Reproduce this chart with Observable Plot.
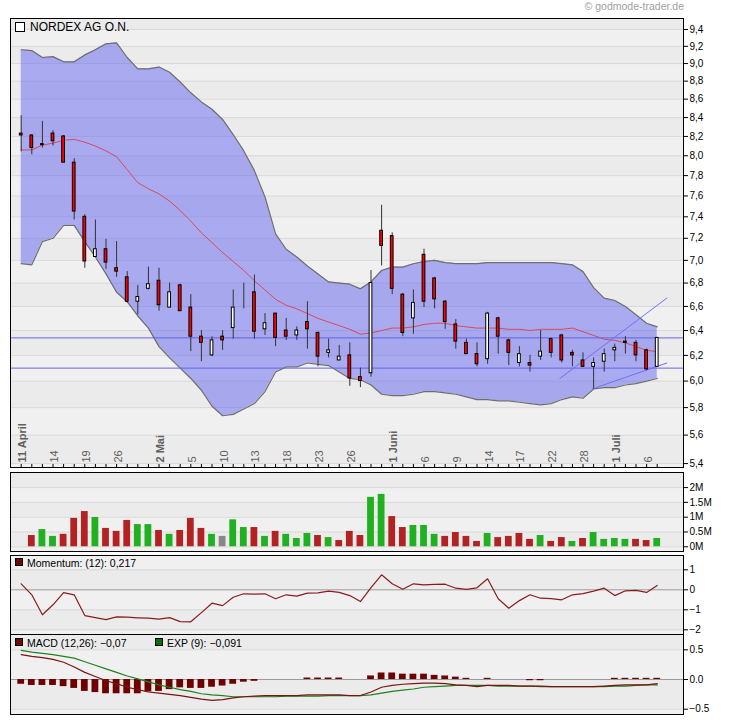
<!DOCTYPE html>
<html><head><meta charset="utf-8">
<script src="https://cdn.jsdelivr.net/npm/d3@7"></script>
<script src="https://cdn.jsdelivr.net/npm/@observablehq/plot@0.6"></script>
<style>
body{margin:0;background:#fff;}
#chart{position:relative;width:730px;height:724px;font-family:"Liberation Sans",Arial,sans-serif;overflow:hidden;}
.lbl{position:absolute;white-space:nowrap;line-height:1;}
.sq{position:absolute;box-sizing:border-box;border:1px solid #000;}
</style></head><body><div id="chart"></div>
<script>
// ---------- data ----------
const dates = ["2011-04-11","2011-04-12","2011-04-13","2011-04-14","2011-04-15","2011-04-18","2011-04-19","2011-04-20","2011-04-21","2011-04-26","2011-04-27","2011-04-28","2011-04-29","2011-05-02","2011-05-03","2011-05-04","2011-05-05","2011-05-06","2011-05-09","2011-05-10","2011-05-11","2011-05-12","2011-05-13","2011-05-16","2011-05-17","2011-05-18","2011-05-19","2011-05-20","2011-05-23","2011-05-24","2011-05-25","2011-05-26","2011-05-27","2011-05-30","2011-05-31","2011-06-01","2011-06-02","2011-06-03","2011-06-06","2011-06-07","2011-06-08","2011-06-09","2011-06-10","2011-06-13","2011-06-14","2011-06-15","2011-06-16","2011-06-17","2011-06-20","2011-06-21","2011-06-22","2011-06-24","2011-06-27","2011-06-28","2011-06-29","2011-06-30","2011-07-01","2011-07-04","2011-07-05","2011-07-06","2011-07-07"];
const open  = [8.23,8.21,8.11,8.23,8.20,7.93,7.40,7.03,7.10,6.93,6.85,6.64,6.75,6.82,6.59,6.78,6.59,6.35,6.20,6.35,6.42,6.69,6.72,6.41,6.54,6.40,6.36,6.47,6.38,6.22,6.16,6.20,6.03,6.06,7.27,7.22,6.70,6.50,7.05,6.84,6.64,6.45,6.30,6.21,6.17,6.50,6.32,6.14,6.14,6.19,6.33,6.36,6.22,6.16,6.11,6.15,6.24,6.31,6.30,6.24,6.11];
const high  = [8.42,8.22,8.36,8.26,8.21,7.97,7.42,7.37,7.19,7.17,6.90,6.78,6.94,6.93,6.80,6.79,6.70,6.40,6.35,6.40,6.74,6.80,6.87,6.54,6.54,6.50,6.43,6.64,6.39,6.33,6.28,6.30,6.10,6.91,7.51,7.25,6.71,6.74,7.10,6.85,6.65,6.49,6.33,6.30,6.55,6.51,6.33,6.27,6.20,6.40,6.34,6.37,6.24,6.22,6.18,6.25,6.29,6.35,6.32,6.25,6.34];
const low   = [8.04,8.01,8.08,8.10,7.93,7.37,6.93,7.03,6.92,6.85,6.63,6.53,6.74,6.56,6.59,6.56,6.23,6.15,6.19,6.24,6.33,6.58,6.33,6.36,6.27,6.32,6.32,6.25,6.11,6.18,6.16,5.96,5.95,6.03,6.95,6.70,6.35,6.37,6.59,6.58,6.41,6.25,6.21,6.11,6.13,6.21,6.12,6.11,6.07,6.16,6.18,6.14,6.11,6.11,5.94,6.07,6.15,6.21,6.15,6.08,6.11];
const close = [8.21,8.08,8.12,8.15,7.93,7.45,6.99,7.10,6.98,6.90,6.64,6.68,6.79,6.61,6.72,6.56,6.35,6.30,6.32,6.32,6.59,6.69,6.39,6.46,6.34,6.35,6.40,6.41,6.19,6.24,6.19,6.02,6.00,6.80,7.13,6.75,6.38,6.63,6.64,6.66,6.47,6.31,6.21,6.13,6.54,6.35,6.22,6.21,6.12,6.23,6.22,6.16,6.20,6.11,6.14,6.21,6.26,6.30,6.20,6.09,6.34];
const volumeM = [null,0.38,0.58,0.35,0.42,0.96,1.19,0.99,0.62,0.52,0.89,0.75,0.75,0.55,0.42,0.55,0.96,0.62,0.42,0.35,0.91,0.65,0.65,0.35,0.52,0.42,0.28,0.45,0.38,0.31,0.21,0.52,0.38,1.67,1.77,1.02,0.65,0.72,0.72,0.42,0.35,0.48,0.35,0.18,0.45,0.31,0.35,0.45,0.25,0.38,0.18,0.31,0.18,0.28,0.48,0.25,0.28,0.25,0.25,0.21,0.28];
const bollUpper = [9.16,9.15,9.07,9.08,9.02,9.02,9.10,9.16,9.23,9.24,9.07,8.94,8.94,8.96,8.90,8.79,8.67,8.57,8.49,8.38,8.22,8.05,7.85,7.59,7.24,7.10,7.03,6.95,6.88,6.81,6.80,6.79,6.75,6.81,6.91,6.94,6.94,6.97,6.99,7.00,6.98,6.97,6.97,6.97,6.98,6.98,6.98,6.98,6.98,6.98,6.98,6.97,6.96,6.90,6.76,6.67,6.65,6.60,6.53,6.46,6.43];
const bollMiddle = [8.06,8.06,8.11,8.13,8.16,8.17,8.14,8.10,8.05,7.99,7.86,7.73,7.67,7.62,7.55,7.46,7.36,7.25,7.16,7.07,6.99,6.91,6.82,6.74,6.66,6.61,6.58,6.54,6.50,6.47,6.44,6.41,6.37,6.38,6.40,6.42,6.42,6.43,6.45,6.46,6.46,6.44,6.43,6.42,6.42,6.42,6.41,6.41,6.40,6.41,6.41,6.41,6.42,6.39,6.36,6.33,6.32,6.30,6.27,6.24,6.23];
const bollLower = [6.97,6.96,7.17,7.20,7.32,7.32,7.17,7.03,6.88,6.72,6.64,6.52,6.42,6.27,6.18,6.10,6.02,5.93,5.81,5.74,5.75,5.79,5.83,5.92,6.07,6.11,6.11,6.14,6.13,6.12,6.07,6.02,6.01,5.97,5.90,5.89,5.89,5.90,5.92,5.92,5.91,5.90,5.88,5.86,5.86,5.85,5.85,5.84,5.83,5.82,5.83,5.86,5.88,5.87,5.94,5.95,5.95,5.97,5.98,6.00,6.02];
const momentum = [0.30,-0.25,-1.25,-0.75,-0.14,-0.25,-1.29,-1.39,-1.49,-1.35,-1.37,-1.40,-1.42,-1.47,-1.39,-1.59,-1.60,-1.14,-0.67,-0.79,-0.37,-0.20,-0.22,-0.20,-0.45,-0.25,-0.32,-0.17,-0.15,-0.07,-0.13,-0.29,-0.59,0.11,0.75,0.30,0.03,0.30,0.25,0.27,0.28,0.08,0.02,0.10,0.55,-0.45,-0.92,-0.54,-0.25,-0.42,-0.44,-0.50,-0.25,-0.19,-0.07,0.08,-0.29,-0.05,-0.03,-0.13,0.217];
const macdLine = [0.42,0.39,0.37,0.34,0.29,0.21,0.12,0.05,-0.02,-0.07,-0.13,-0.17,-0.21,-0.23,-0.25,-0.27,-0.30,-0.33,-0.35,-0.34,-0.31,-0.29,-0.28,-0.27,-0.27,-0.27,-0.27,-0.26,-0.26,-0.26,-0.26,-0.27,-0.27,-0.21,-0.13,-0.10,-0.08,-0.07,-0.06,-0.06,-0.07,-0.09,-0.10,-0.12,-0.10,-0.10,-0.10,-0.11,-0.11,-0.11,-0.12,-0.12,-0.12,-0.12,-0.12,-0.11,-0.10,-0.09,-0.09,-0.09,-0.07];
const signalLine = [0.49,0.46,0.44,0.42,0.39,0.36,0.30,0.24,0.18,0.12,0.06,0.01,-0.04,-0.09,-0.13,-0.17,-0.20,-0.24,-0.26,-0.27,-0.29,-0.29,-0.29,-0.29,-0.29,-0.28,-0.28,-0.28,-0.28,-0.27,-0.27,-0.27,-0.27,-0.26,-0.23,-0.20,-0.18,-0.16,-0.13,-0.12,-0.11,-0.10,-0.10,-0.10,-0.10,-0.11,-0.11,-0.11,-0.11,-0.12,-0.12,-0.12,-0.12,-0.12,-0.12,-0.12,-0.11,-0.11,-0.10,-0.09,-0.091];
const macdHist = [-0.08,-0.10,-0.10,-0.10,-0.12,-0.15,-0.20,-0.22,-0.24,-0.24,-0.24,-0.24,-0.21,-0.20,-0.17,-0.14,-0.15,-0.15,-0.13,-0.11,-0.08,-0.045,-0.03,0,0,0,0,0.025,0.025,0.025,0.025,0,0,0.06,0.11,0.11,0.09,0.09,0.09,0.07,0.06,0.04,0.02,0,0.02,0,0,0,-0.02,-0.02,0,0,0,0,0,0,0.02,0.02,0.02,0.02,0.02];
const hLevels = [6.34, 6.10];
const trendUpDates = ["2011-06-24","2011-07-07"]; const trendUpOffset = [-0.18, 0.9]; const trendUpValues = [6.02, 6.67];
const trendLowDates = ["2011-06-29","2011-07-07"]; const trendLowOffset = [-0.13, 0.9]; const trendLowValues = [5.94, 6.14];
const priceTicks = [5.4,5.6,5.8,6.0,6.2,6.4,6.6,6.8,7.0,7.2,7.4,7.6,7.8,8.0,8.2,8.4,8.6,8.8,9.0,9.2,9.4];
const volumeTicks = [0,0.5,1,1.5,2]; const volumeTickLabels = ["0M","0.5M","1M","1.5M","2M"];
const momentumTicks = [1,0,-1,-2];
const macdTicks = [0.5,0,-0.5];
const tickDates = ["2011-04-11","2011-04-14","2011-04-19","2011-04-26","2011-05-02","2011-05-05","2011-05-10","2011-05-13","2011-05-18","2011-05-23","2011-05-26","2011-06-01","2011-06-06","2011-06-09","2011-06-14","2011-06-17","2011-06-22","2011-06-28","2011-07-01","2011-07-06"];
const tickLabels = ["11 April","14","19","26","2 Mai","5","10","13","18","23","26","1 Juni","6","9","14","17","22","28","1 Juli","6"];

// ---------- build ----------
const N = dates.length;
const idx = d3.range(N);
const W = 730, ML = 10, MR = 47;
const xDomain = [-1.01, 62.48];
const font = "'Liberation Sans', Arial, sans-serif";
const baseStyle = {background: "transparent", fontFamily: font, fontSize: "10px", overflow: "visible", color: "#000"};

const rows = idx.map(i => ({
  i, o: open[i], h: high[i], l: low[i], c: close[i],
  up: bollUpper[i], mid: bollMiddle[i], lo: bollLower[i],
  vol: volumeM[i], mom: momentum[i], macd: macdLine[i], sig: signalLine[i], hist: macdHist[i],
  volColor: i === 0 ? null : close[i] > close[i-1] ? "#20b020" : close[i] < close[i-1] ? "#b22222" : "#888888"
}));
const trendUp = trendUpDates.map((d, k) => ({i: dates.indexOf(d) + trendUpOffset[k], v: trendUpValues[k]}));
const trendLow = trendLowDates.map((d, k) => ({i: dates.indexOf(d) + trendLowOffset[k], v: trendLowValues[k]}));
const dateTicks = tickDates.map((d, k) => ({i: dates.indexOf(d), label: tickLabels[k], month: tickLabels[k].includes(" ")}));

function stripes(ticks, lo, hi) {
  const e = [lo, ...ticks.slice().sort((a, b) => a - b), hi];
  return e.slice(0, -1).map((v, k) => ({y1: v, y2: e[k + 1], k}));
}
const stripeFill = d => (d.k % 2 ? "#ebebeb" : "#f0f0f0");

const priceDomain = [5.373, 9.533];
const pricePlot = Plot.plot({
  width: W, height: 451, marginLeft: ML, marginRight: MR, marginTop: 1, marginBottom: 1,
  style: baseStyle,
  x: {domain: xDomain, label: null},
  y: {type: "log", domain: priceDomain, label: null},
  marks: [
    Plot.rectY(stripes(priceTicks, priceDomain[0], priceDomain[1]), {y1: "y1", y2: "y2", fill: stripeFill}),
    Plot.ruleY(priceTicks, {stroke: "#d8d8d8"}),
    Plot.areaY(rows, {x: "i", y1: "lo", y2: "up", fill: "rgb(100,100,240)", fillOpacity: 0.5}),
    Plot.line(rows, {x: "i", y: "up", stroke: "#6e6e6e", strokeWidth: 1.2}),
    Plot.line(rows, {x: "i", y: "lo", stroke: "#6e6e6e", strokeWidth: 1.2}),
    Plot.line(rows, {x: "i", y: "mid", stroke: "#d84a5a", strokeWidth: 1}),
    Plot.ruleY(hLevels, {stroke: "#6464e6", strokeWidth: 1}),
    Plot.line(trendUp, {x: "i", y: "v", stroke: "#7070f8", strokeWidth: 1}),
    Plot.line(trendLow, {x: "i", y: "v", stroke: "#7070f8", strokeWidth: 1}),
    Plot.ruleX(rows, {x: "i", y1: "l", y2: "h", stroke: "#333", strokeWidth: 1}),
    Plot.rect(rows, {x1: d => d.i - 0.13, x2: d => d.i + 0.13, y1: "o", y2: "c",
      fill: d => (d.c >= d.o ? "#ffffff" : "#ff0000"), stroke: "#000", strokeWidth: 1}),
    Plot.text(dateTicks.filter(d => !d.month), {x: "i", text: "label", frameAnchor: "bottom", rotate: -90,
      textAnchor: "start", dx: 5, dy: -5, fill: "#5f5f5f", fontSize: 11}),
    Plot.text(dateTicks.filter(d => d.month), {x: "i", text: "label", frameAnchor: "bottom", rotate: -90,
      textAnchor: "start", dx: 5, dy: -5, fill: "#5f5f5f", fontSize: 11, fontWeight: "bold"}),
    Plot.axisX(idx, {anchor: "bottom", tickSize: 3, dy: -3, tickFormat: () => "", label: null}),
    Plot.axisY({anchor: "right", ticks: priceTicks, tickSize: 4, tickPadding: 2,
      tickFormat: d => d.toFixed(1).replace(".", ","), label: null}),
    Plot.frame({stroke: "#000"})
  ]
});

const volDomain = [-0.16, 2.51];
const volumePlot = Plot.plot({
  width: W, height: 81, marginLeft: ML, marginRight: MR, marginTop: 1, marginBottom: 1,
  style: baseStyle,
  x: {domain: xDomain, axis: null},
  y: {domain: volDomain, label: null},
  marks: [
    Plot.rectY(stripes(volumeTicks, volDomain[0], volDomain[1]), {y1: "y1", y2: "y2", fill: stripeFill}),
    Plot.ruleY(volumeTicks, {stroke: "#d8d8d8"}),
    Plot.rect(rows.filter(d => d.vol != null), {x1: d => d.i - 0.32, x2: d => d.i + 0.32, y1: () => 0, y2: "vol", fill: "volColor"}),
    Plot.axisY({anchor: "right", ticks: volumeTicks, tickSize: 4, tickPadding: 2,
      tickFormat: d => volumeTickLabels[volumeTicks.indexOf(d)], label: null}),
    Plot.frame({stroke: "#000"})
  ]
});

const momDomain = [-2.235, 1.715];
const momentumPlot = Plot.plot({
  width: W, height: 81, marginLeft: ML, marginRight: MR, marginTop: 1, marginBottom: 1,
  style: baseStyle,
  x: {domain: xDomain, axis: null},
  y: {domain: momDomain, label: null},
  marks: [
    Plot.rectY(stripes(momentumTicks, momDomain[0], momDomain[1]), {y1: "y1", y2: "y2", fill: stripeFill}),
    Plot.ruleY(momentumTicks.filter(t => t !== 0), {stroke: "#d8d8d8"}),
    Plot.ruleY([0], {stroke: "#9a9a9a"}),
    Plot.line(rows, {x: "i", y: "mom", stroke: "#8b1c1c", strokeWidth: 1.2}),
    Plot.axisY({anchor: "right", ticks: momentumTicks, tickSize: 4, tickPadding: 2,
      tickFormat: d => (d < 0 ? "\u2212" + (-d) : String(d)), label: null}),
    Plot.frame({stroke: "#000"})
  ]
});

const macdDomain = [-0.589, 0.758];
const macdPlot = Plot.plot({
  width: W, height: 82, marginLeft: ML, marginRight: MR, marginTop: 1, marginBottom: 1,
  style: baseStyle,
  x: {domain: xDomain, axis: null},
  y: {domain: macdDomain, label: null},
  marks: [
    Plot.rectY(stripes(macdTicks, macdDomain[0], macdDomain[1]), {y1: "y1", y2: "y2", fill: stripeFill}),
    Plot.ruleY(macdTicks.filter(t => t !== 0), {stroke: "#d8d8d8"}),
    Plot.ruleY([0], {stroke: "#9a9a9a"}),
    Plot.rect(rows.filter(d => d.hist !== 0), {x1: d => d.i - 0.32, x2: d => d.i + 0.32, y1: () => 0, y2: "hist", fill: "#6e0000"}),
    Plot.line(rows, {x: "i", y: "sig", stroke: "#1e821e", strokeWidth: 1.2}),
    Plot.line(rows, {x: "i", y: "macd", stroke: "#7a1414", strokeWidth: 1.2}),
    Plot.axisY({anchor: "right", ticks: macdTicks, tickSize: 4, tickPadding: 2,
      tickFormat: d => (d < 0 ? "\u2212" : "") + Math.abs(d).toFixed(1), label: null}),
    Plot.frame({stroke: "#000"})
  ]
});

const chart = document.getElementById("chart");
[[pricePlot, 17], [volumePlot, 471], [momentumPlot, 554], [macdPlot, 633]].forEach(([el, top]) => {
  el.style.position = "absolute"; el.style.left = "0px"; el.style.top = top + "px";
  chart.appendChild(el);
});

function addLabel(text, left, top, size, color, extra) {
  const d = document.createElement("div");
  d.className = "lbl"; d.textContent = text;
  d.style.left = left + "px"; d.style.top = top + "px"; d.style.fontSize = size + "px"; d.style.color = color;
  if (extra) Object.assign(d.style, extra);
  chart.appendChild(d); return d;
}
function addSquare(left, top, size, fill) {
  const s = document.createElement("div");
  s.className = "sq"; s.style.left = left + "px"; s.style.top = top + "px";
  s.style.width = size + "px"; s.style.height = size + "px"; s.style.background = fill;
  chart.appendChild(s);
}
const cr = addLabel("\u00a9 godmode-trader.de", 0, 1, 10.5, "#a0a0a0");
cr.style.left = ""; cr.style.right = "46px";
addSquare(15, 22, 10, "#fff");
addLabel("NORDEX AG O.N.", 30, 21, 12, "#000");
addSquare(15, 558, 8, "#6e0a0a");
addLabel("Momentum: (12): 0,217", 27, 557.5, 10.5, "#000");
addSquare(15, 638, 8, "#6e0a0a");
addLabel("MACD (12,26): \u22120,07", 27, 637.5, 10.5, "#000");
addSquare(155, 638, 8, "#0a6e0a");
addLabel("EXP (9): \u22120,091", 167, 637.5, 10.5, "#000");
</script></body></html>
